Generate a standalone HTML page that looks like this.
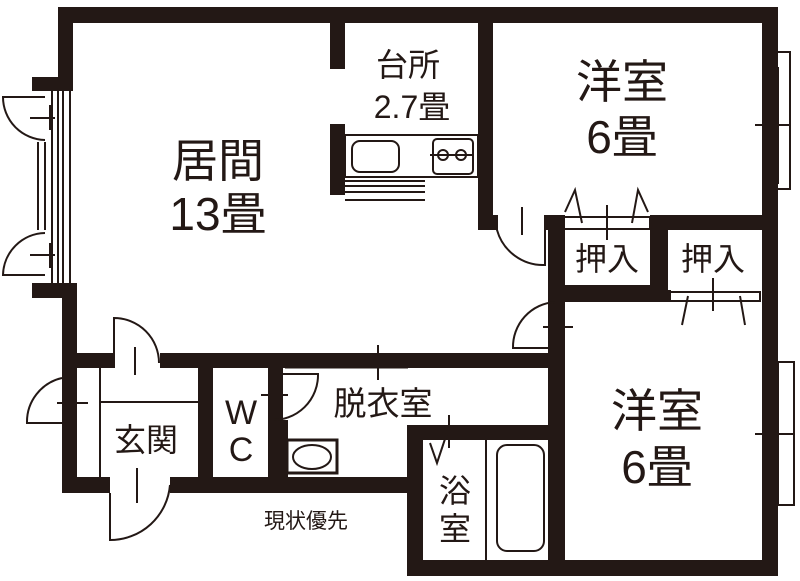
<!DOCTYPE html>
<html><head><meta charset="utf-8"><style>
html,body{margin:0;padding:0;background:#fff}
svg{display:block}
text{font-family:"Liberation Sans","Noto Sans CJK JP",sans-serif;fill:#231815}
</style></head><body>
<svg width="800" height="581" viewBox="0 0 800 581" xmlns="http://www.w3.org/2000/svg">
<g fill="#231815">
<rect x="58" y="7" width="720" height="16"/>
<rect x="58" y="7" width="15" height="84"/>
<rect x="32" y="77" width="41" height="14"/>
<rect x="32" y="283" width="45" height="15"/>
<rect x="62" y="283" width="15" height="210"/>
<rect x="330" y="23" width="15" height="46"/>
<rect x="330" y="124" width="15" height="71"/>
<rect x="478" y="7" width="15" height="223"/>
<rect x="478" y="215" width="20" height="15"/>
<rect x="545" y="215" width="18" height="15"/>
<rect x="650" y="215" width="112" height="15"/>
<rect x="762" y="7" width="16" height="569"/>
<rect x="548" y="215" width="17" height="130"/>
<rect x="548" y="285" width="120" height="17"/>
<rect x="650" y="215" width="18" height="87"/>
<rect x="668" y="290" width="3" height="12"/>
<rect x="548" y="345" width="17" height="231"/>
<rect x="62" y="353" width="52" height="15"/>
<rect x="160" y="353" width="388" height="15"/>
<rect x="407" y="425" width="141" height="15"/>
<rect x="407" y="425" width="16" height="151"/>
<rect x="407" y="560" width="371" height="16"/>
<rect x="62" y="477" width="48" height="16"/>
<rect x="170" y="477" width="237" height="16"/>
<rect x="198" y="368" width="15" height="109"/>
<rect x="268" y="368" width="15" height="109"/>
<rect x="283" y="420" width="5" height="57"/>
</g>
<g fill="none" stroke="#231815" stroke-width="2">
<line x1="52" y1="91" x2="52" y2="283"/><line x1="58" y1="91" x2="58" y2="283"/>
<line x1="63" y1="91" x2="63" y2="283"/><line x1="70" y1="91" x2="70" y2="283"/>
<line x1="38" y1="142" x2="38" y2="230"/><line x1="45" y1="142" x2="45" y2="230"/>
<path d="M45 97 L3 97 A43 43 0 0 0 45 140"/>
<path d="M45 233 A43 43 0 0 0 3 275 L45 275"/>
<line x1="30" y1="118" x2="55" y2="118"/><line x1="50" y1="105" x2="50" y2="130"/>
<line x1="30" y1="255" x2="55" y2="255"/><line x1="50" y1="243" x2="50" y2="268"/>
<rect x="345" y="135" width="133" height="42"/>
<rect x="352" y="141" width="47" height="31" rx="8"/>
<rect x="433" y="139" width="40" height="35" rx="4"/>
<circle cx="443" cy="155" r="5"/><circle cx="461" cy="155" r="5"/>
<line x1="430" y1="155" x2="474" y2="155"/>
<line x1="345" y1="181" x2="425" y2="181"/><line x1="345" y1="186" x2="425" y2="186"/><line x1="345" y1="192" x2="425" y2="192"/><line x1="345" y1="200" x2="425" y2="200"/>
<path d="M497 215 L497 230 A48 48 0 0 0 545 265 L545 215"/>
<line x1="522" y1="207" x2="522" y2="235"/>
<rect x="563" y="217" width="87" height="12"/>
<path d="M565 212 L575 190 L582 223 M632 223 L638 190 L648 212"/>
<line x1="607" y1="205" x2="607" y2="240"/>
<rect x="670" y="292" width="90" height="9"/>
<path d="M682 325 L688 296 M745 325 L740 296"/>
<line x1="713" y1="278" x2="713" y2="311"/>
<rect x="768" y="52" width="22" height="137"/><rect x="767" y="68" width="11" height="115"/>
<line x1="755" y1="125" x2="790" y2="125"/><line x1="775" y1="112" x2="775" y2="138"/>
<rect x="778" y="362" width="16" height="143"/><rect x="767" y="375" width="11" height="120"/>
<line x1="755" y1="434" x2="793" y2="434"/><line x1="775" y1="420" x2="775" y2="450"/>
<path d="M563 302 L555 302 A45 45 0 0 0 513 348 L563 348"/>
<line x1="543" y1="327" x2="573" y2="327"/>
<line x1="100" y1="368" x2="100" y2="477"/>
<line x1="100" y1="402" x2="198" y2="402"/>
<path d="M114 368 L114 318 A45 45 0 0 1 159 363"/>
<line x1="135" y1="347" x2="135" y2="375"/>
<path d="M62 378 A45 45 0 0 0 27 423 L62 423"/>
<line x1="57" y1="403" x2="88" y2="403"/>
<path d="M110 493 L110 540 A60 60 0 0 0 170 485"/>
<line x1="137" y1="468" x2="137" y2="503"/>
<path d="M271 374 L318 374 A45 45 0 0 1 271 420"/>
<line x1="261" y1="395" x2="288" y2="395"/>
<line x1="285" y1="363" x2="348" y2="363" stroke-dasharray="6 3" stroke-width="3"/>
<line x1="348" y1="357" x2="408" y2="357"/><line x1="285" y1="368" x2="408" y2="368" stroke-width="1"/>
<line x1="378" y1="345" x2="378" y2="380"/>
<rect x="287" y="440" width="50" height="33" stroke-width="3"/>
<ellipse cx="312" cy="457" rx="19" ry="12"/>
<rect x="423" y="428" width="53" height="10"/>
<path d="M430 443 L437 463 L448 430"/>
<line x1="449" y1="415" x2="449" y2="448"/>
<line x1="486" y1="440" x2="486" y2="560"/>
<rect x="497" y="445" width="47" height="106" rx="10"/>
</g>
<g text-anchor="middle">
<text x="218" y="177" font-size="46">居間</text>
<text x="218" y="230" font-size="46">13畳</text>
<text x="408" y="76" font-size="32">台所</text>
<text x="412" y="118" font-size="32">2.7畳</text>
<text x="622" y="98" font-size="46">洋室</text>
<text x="622" y="153" font-size="46">6畳</text>
<text x="607" y="270" font-size="32">押入</text>
<text x="713" y="270" font-size="32">押入</text>
<text x="657" y="427" font-size="46">洋室</text>
<text x="657" y="483" font-size="46">6畳</text>
<text x="146" y="451" font-size="32">玄関</text>
<text x="241" y="424" font-size="34">W</text>
<text x="241" y="461" font-size="34">C</text>
<text x="383" y="415" font-size="33">脱衣室</text>
<text x="455" y="502" font-size="32">浴</text>
<text x="455" y="540" font-size="32">室</text>
<text x="306" y="528" font-size="21">現状優先</text>
</g>
</svg>
</body></html>
